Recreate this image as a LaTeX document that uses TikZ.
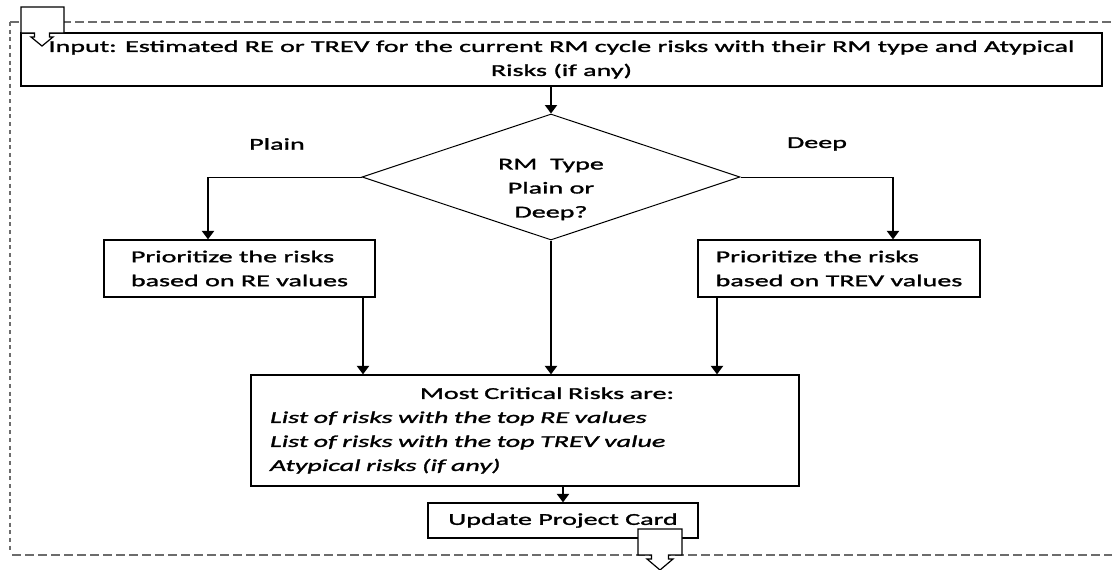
\documentclass[tikz,border=0pt]{standalone}
\usepackage{fontspec}
\setmainfont{Carlito}[FakeStretch=1.69,FakeBold=1.6]
\usetikzlibrary{shapes.geometric,arrows.meta}
\newcommand{\txtfont}{\fontsize{16.6}{24}\selectfont}
\begin{document}
\begin{tikzpicture}[x=1pt,y=-1pt,
  box/.style={draw,line width=1.2pt,rectangle,inner sep=0pt,font=\txtfont},
  arr/.style={line width=2.2pt,-{Triangle[width=12pt,length=8.5pt]}},
  thinline/.style={line width=1pt},
  frametop/.style={draw=gray!85!black,line width=1.5pt,dash pattern=on 9pt off 4pt},
  frameleft/.style={draw=gray!85!black,line width=2.6pt,dash pattern=on 4pt off 3.7pt},
  conn/.style={draw,line width=1.2pt,fill=white,line join=miter},
  lbl/.style={font=\txtfont,inner sep=0pt}]
\useasboundingbox (0,0) rectangle (1112,570);

% frame
\draw[frameleft] (10,22) -- (10,553);
\draw[frametop] (10,22) -- (1112,22);
\draw[frametop] (12,555) -- (1112,555);

% nodes
\node[box,minimum width=1081pt,minimum height=53pt,align=center] (in) at (561.5,59.5)
  {Input: Estimated RE or TREV for the current RM cycle risks with their RM type and Atypical\\Risks (if any)};
\node[diamond,draw,line width=1pt,minimum width=378pt,minimum height=126pt,inner sep=0pt] (d) at (551,177) {};
\node[lbl,align=center] (dt) at (551,189.5) {RM\ \ Type\\Plain or\\Deep?};
\node[lbl] (plain) at (277,144) {Plain};
\node[lbl] (deep) at (817,144) {Deep};
\node[box,minimum width=271pt,minimum height=57pt,align=left] (lb) at (239.5,268.5)
  {Prioritize the risks\\based on RE values};
\node[box,minimum width=282pt,minimum height=57pt,align=left] (rb) at (839,268.5)
  {Prioritize the risks\\based on TREV values};
\node[box,minimum width=548pt,minimum height=111pt,text width=510pt,align=left] (mb) at (525,430.5)
  {\makebox[\linewidth]{\hspace{44pt}Most Critical Risks are:}\\
   \itshape List of risks with the top RE values\\
   \itshape List of risks with the top TREV value\\
   \itshape Atypical risks (if any)};
\node[box,minimum width=270pt,minimum height=35pt] (up) at (563,520.5) {Update Project Card};

% connectors
\draw[arr] (in.south -| d.north) -- (d.north);
\coordinate (lc) at (208,177);
\coordinate (rc) at (893,177);
\draw[thinline] (d.west) -- (lc);
\draw[arr] (lc) -- (lc |- lb.north);
\draw[thinline] (d.east) -- (rc);
\draw[arr] (rc) -- (rc |- rb.north);
\draw[arr] (d.south) -- (d.south |- mb.north);
\coordinate (la) at (363,0);
\coordinate (ra) at (717,0);
\draw[arr] (la |- lb.south) -- (la |- mb.north);
\draw[arr] (ra |- rb.south) -- (ra |- mb.north);
\draw[arr] (mb.south -| up.north) -- (up.north);

% off-page connectors
\draw[conn] (21,33) -- (21,7) -- (64,7) -- (64,33) -- (49.5,33) -- (49.5,37) -- (53,37)
  -- (42,46) -- (31,37) -- (34.5,37) -- (34.5,33) -- cycle;
\draw[conn] (638,529) -- (682,529) -- (682,555) -- (668.5,555) -- (668.5,559) -- (673,559)
  -- (660,570) -- (647,559) -- (651.5,559) -- (651.5,555) -- (638,555) -- cycle;
\end{tikzpicture}
\end{document}
